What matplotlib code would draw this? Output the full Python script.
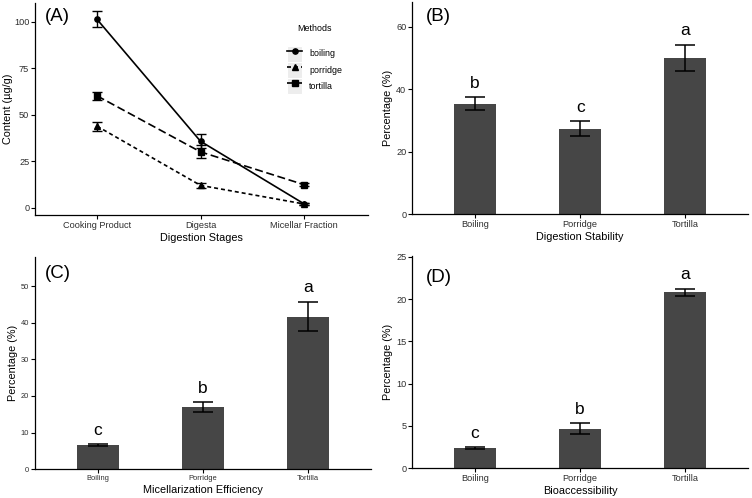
import matplotlib
matplotlib.use("Agg")
import matplotlib.pyplot as plt
import numpy as np
from matplotlib.legend_handler import HandlerLine2D
from matplotlib.patches import Rectangle

plt.rcParams['font.family'] = ['Liberation Sans', 'DejaVu Sans']

# ---- Panel A: content along digestion stages ----
stages = ["Cooking Product", "Digesta", "Micellar Fraction"]
methods = ["boiling", "porridge", "tortilla"]
boiling_mean = [101.2, 35.7, 2.1]
boiling_err = [4.3, 3.7, 0.4]
porridge_mean = [43.8, 12.0, 2.0]
porridge_err = [2.4, 1.5, 0.5]
tortilla_mean = [60.1, 30.0, 12.4]
tortilla_err = [2.2, 3.5, 0.6]

# ---- Panels B-D: bar charts ----
groups = ["Boiling", "Porridge", "Tortilla"]
stability_mean = [35.4, 27.4, 50.1]
stability_err = [2.1, 2.3, 4.2]
stability_letters = ["b", "c", "a"]
micell_mean = [6.6, 16.9, 41.7]
micell_err = [0.15, 1.35, 4.05]
micell_letters = ["c", "b", "a"]
bioacc_mean = [2.35, 4.65, 20.8]
bioacc_err = [0.1, 0.65, 0.4]
bioacc_letters = ["c", "b", "a"]

BAR = '#464646'
TICK = '#2E2E2E'


class GreyKey(HandlerLine2D):
    # ggplot-like grey square behind each legend key
    def create_artists(self, legend, orig_handle, xdescent, ydescent,
                       width, height, fontsize, trans):
        bg = Rectangle((-xdescent, -ydescent), width, height,
                       facecolor='#EDEDED', edgecolor='white', linewidth=0.8,
                       transform=trans)
        arts = super().create_artists(legend, orig_handle, xdescent, ydescent,
                                      width, height, fontsize, trans)
        return [bg] + arts


def style(ax, tick_size=6.6):
    for s in ['top', 'right']:
        ax.spines[s].set_visible(False)
    for s in ['left', 'bottom']:
        ax.spines[s].set_linewidth(0.9)
    ax.tick_params(length=2.6, width=0.8, labelsize=tick_size,
                   labelcolor=TICK, pad=1.5)


fig = plt.figure(figsize=(7.52, 4.98), dpi=100)
axA = fig.add_axes([0.0465, 0.568, 0.443, 0.426])
axB = fig.add_axes([0.548, 0.570, 0.447, 0.426])
axC = fig.add_axes([0.0465, 0.058, 0.447, 0.426])
axD = fig.add_axes([0.548, 0.060, 0.447, 0.426])

# Panel A
xs = np.arange(1, len(stages) + 1)
series = [
    ("boiling", boiling_mean, boiling_err, 'o', None),
    ("porridge", porridge_mean, porridge_err, '^', (2.4, 1.8)),
    ("tortilla", tortilla_mean, tortilla_err, 's', (4.8, 2.2)),
]
handles = []
for name, mean, err, mk, dash in series:
    ln, = axA.plot(xs, mean, color='black', lw=1.2, marker=mk, ms=3.8,
                   label=name)
    if dash is not None:
        ln.set_dashes(dash)
    axA.errorbar(xs, mean, yerr=err, fmt='none', ecolor='black',
                 elinewidth=1.0, capsize=3.4, capthick=1.0)
    handles.append(ln)

axA.set_xlim(0.4, 3.62)
axA.set_ylim(-4, 110)
axA.set_xticks(xs)
axA.set_xticklabels(stages)
axA.set_yticks([0, 25, 50, 75, 100])
axA.set_xlabel("Digestion Stages", fontsize=7.8, labelpad=2)
axA.set_ylabel("Content (\u00b5g/g)", fontsize=7.8, labelpad=1)
style(axA)
axA.text(0.03, 0.934, "(A)", transform=axA.transAxes, fontsize=13.5,
         ha='left', va='center')
leg = axA.legend(handles=handles, title="Methods", loc='upper left',
                 bbox_to_anchor=(0.757, 0.9), frameon=False, fontsize=6.4,
                 title_fontsize=6.4, numpoints=1, handlelength=1.7,
                 handleheight=2.4, labelspacing=0, handletextpad=0.8,
                 borderpad=0, borderaxespad=0,
                 handler_map={ln: GreyKey() for ln in handles})
leg._legend_box.sep = 9


def bar_panel(ax, mean, err, letters, xlabel, ylim, yticks, tag, tagpos,
              tick_size=6.6):
    x = np.arange(1, len(groups) + 1)
    ax.bar(x, mean, width=0.4, color=BAR, edgecolor='none')
    ax.errorbar(x, mean, yerr=err, fmt='none', ecolor='black',
                elinewidth=1.1, capsize=7.2, capthick=1.1)
    for xi, m, e, lt in zip(x, mean, err, letters):
        ax.annotate(lt, (xi, m + e), xytext=(0, 6.8),
                    textcoords='offset points', ha='center', va='baseline',
                    fontsize=12.5)
    ax.set_xlim(0.4, 3.6)
    ax.set_ylim(*ylim)
    ax.set_xticks(x)
    ax.set_xticklabels(groups)
    ax.set_yticks(yticks)
    ax.set_xlabel(xlabel, fontsize=7.8, labelpad=2)
    ax.set_ylabel("Percentage (%)", fontsize=7.8, labelpad=2)
    style(ax, tick_size)
    ax.text(tagpos[0], tagpos[1], tag, transform=ax.transAxes,
            fontsize=13.5, ha='left', va='center')


bar_panel(axB, stability_mean, stability_err, stability_letters,
          "Digestion Stability", (0, 68), [0, 20, 40, 60], "(B)", (0.04, 0.93))
bar_panel(axC, micell_mean, micell_err, micell_letters,
          "Micellarization Efficiency", (0, 58), [0, 10, 20, 30, 40, 50],
          "(C)", (0.03, 0.92), tick_size=5.4)
bar_panel(axD, bioacc_mean, bioacc_err, bioacc_letters,
          "Bioaccessibility", (0, 25.1), [0, 5, 10, 15, 20, 25], "(D)",
          (0.04, 0.90))

fig.savefig("out.png", dpi=100)
